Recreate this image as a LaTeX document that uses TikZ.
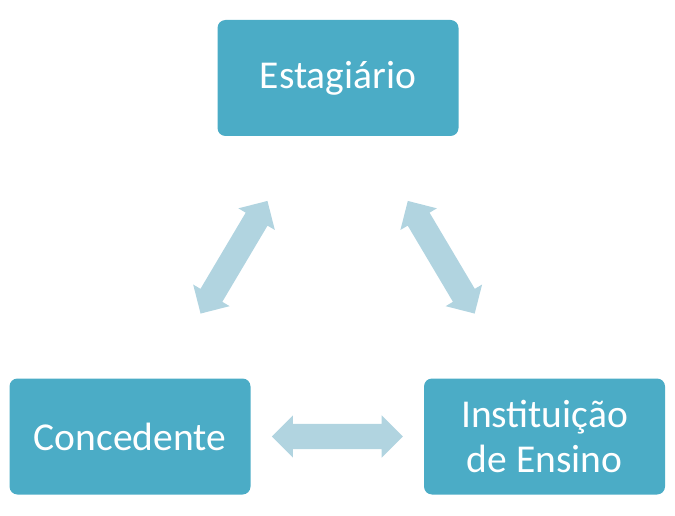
\documentclass[tikz,border=0pt]{standalone}
\usepackage{fontspec}
\setmainfont{Carlito}
\usepackage{tikz}
\usetikzlibrary{shapes.arrows,calc}
\definecolor{caixa}{HTML}{4BACC6}
\definecolor{seta}{HTML}{B1D4E0}
\tikzset{papel/.style={fill=caixa,rounded corners=8pt,minimum width=241pt,minimum height=116pt,
    inner sep=0pt,text=white,align=center,font=\fontsize{39.5}{45}\selectfont},
  ligacao/.style={double arrow,fill=seta,inner xsep=0pt,inner ysep=12.5pt,
    minimum height=131pt,double arrow head extend=8.5pt}}
\begin{document}
\begin{tikzpicture}[x=1pt,y=1pt]
    \useasboundingbox (0,0) rectangle (675,515);
    \node[papel] (e) at (338,437) {Estagiário};
    \node[papel] (c) at (130,78.5) {Concedente}; \node[papel] (i) at (544.5,78.5) {Instituição\\de Ensino};
    \node[ligacao,rotate=59.3] (ec) at ($(e)!0.5!(c)$) {};
    \node[ligacao,rotate=-59.3] (ei) at ($(e)!0.5!(i)$) {};
    \node[ligacao] (ci) at ($(c)!0.5!(i)$) {};
    % \draw (c) -- (i);
\end{tikzpicture}
\end{document}
